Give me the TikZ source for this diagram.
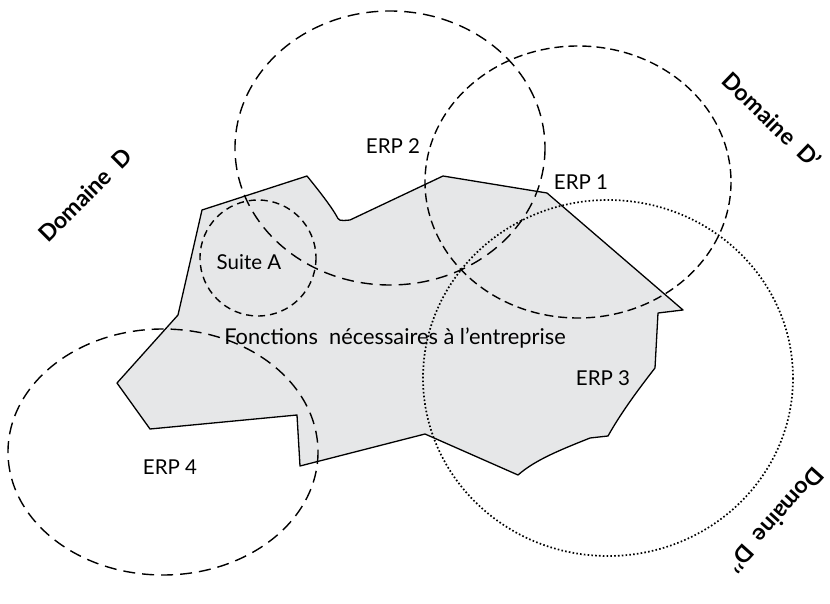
\documentclass[tikz,border=0pt]{standalone}
\usepackage{fontspec}
\setmainfont{Lato}
\definecolor{areagrey}{HTML}{E6E7E8}
\begin{document}
\begin{tikzpicture}[x=1pt,y=-1pt,
  zone/.style={fill=areagrey, draw=black, line width=1.3pt, line join=round},
  erplong/.style={draw=black, line width=1.4pt, dash pattern=on 12pt off 7pt},
  erp/.style={draw=black, line width=1.4pt, dash pattern=on 9pt off 5pt},
  suite/.style={draw=black, line width=1.4pt, dash pattern=on 7pt off 5pt},
  erpdot/.style={draw=black, line width=1.7pt, dash pattern=on 1.6pt off 2.2pt},
  lbl/.style={font=\fontsize{20.5}{24}\selectfont, inner sep=0pt},
  domaine/.style={font=\bfseries\fontsize{23}{27}\selectfont, inner sep=0pt}]
\useasboundingbox (0,0) rectangle (830,604);

% area of the functions the company needs
\path[zone] (202,210) -- (307,176)
  .. controls (320,192) and (330,205) .. (336,215)
  .. controls (339,221) .. (350,220)
  -- (443,176) -- (547,193) -- (683,310) -- (658,313) -- (655,368)
  .. controls (630,400) and (617,420) .. (608,436)
  -- (590,438)
  .. controls (560,450) and (535,460) .. (518,475)
  -- (425,434) -- (300,466) -- (297,415) -- (150,429) -- (117,383)
  -- (178,315) -- cycle;

% perimeters of the ERP systems
\draw[erplong] (390,148) ellipse [x radius=155, y radius=137];
\draw[erp] (578,182) ellipse [x radius=153, y radius=136];
\draw[erpdot] (608,378) ellipse [x radius=185, y radius=178];
\draw[erplong] (163,452) ellipse [x radius=155, y radius=123];
\draw[suite] (258,258) circle [radius=58];

% labels
\node[lbl] (erp2) at (393,146) {ERP 2};
\node[lbl] (erp1) at (581,182) {ERP 1};
\node[lbl] (suite) at (249,262) {Suite A};
\node[lbl, font=\fontsize{21.8}{25}\selectfont] (fonc) at (395,338) {Fonctions\ \ nécessaires à l’entreprise};
\node[lbl] (erp3) at (603,378) {ERP 3};
\node[lbl] (erp4) at (170,467) {ERP 4};

% domains
\node[domaine, rotate=45] (domD) at (85,195) {Domaine\ \ D};
\node[domaine, rotate=-44] (domD1) at (772,120) {Domaine\ \ D’};
\node[domaine, rotate=-132] (domD2) at (776,520) {Domaine\ \ D’’};
\end{tikzpicture}
\end{document}
